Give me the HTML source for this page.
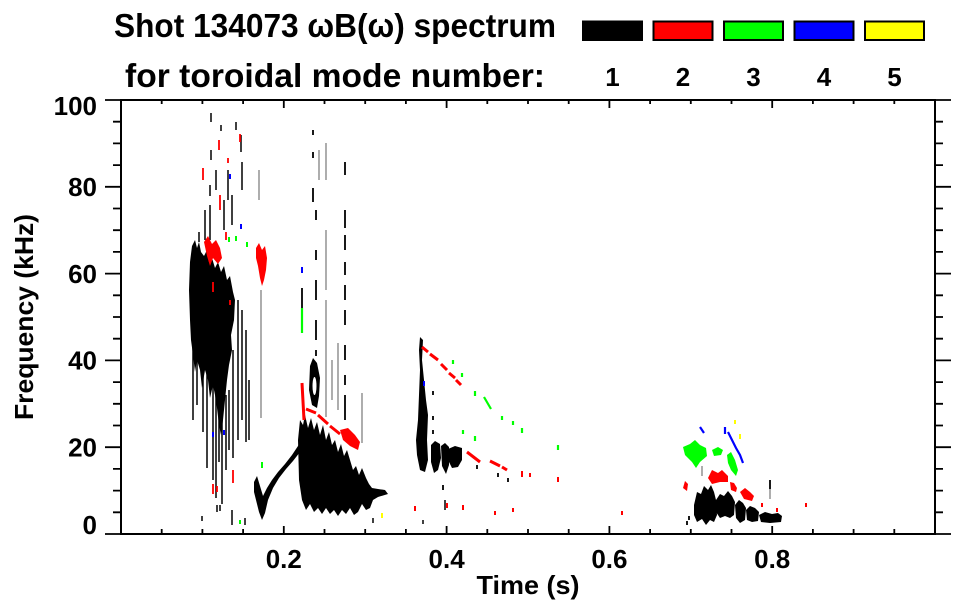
<!DOCTYPE html>
<html><head><meta charset="utf-8"><style>
html,body{margin:0;padding:0;background:#fff;}
svg{display:block;}
text{font-family:"Liberation Sans",Arial,sans-serif;font-weight:bold;fill:#000;}
</style></head><body>
<svg width="963" height="615" viewBox="0 0 963 615" xmlns="http://www.w3.org/2000/svg">
<rect width="963" height="615" fill="#fff"/>

<!-- Title -->
<text x="114" y="37" font-size="33" textLength="442" lengthAdjust="spacingAndGlyphs">Shot 134073 ωB(ω) spectrum</text>
<text x="125" y="87" font-size="33" textLength="420" lengthAdjust="spacingAndGlyphs">for toroidal mode number:</text>

<!-- Legend boxes -->
<g stroke="#000" stroke-width="2">
<rect x="583" y="21.5" width="59" height="18.5" fill="#000"/>
<rect x="653.5" y="21.5" width="59" height="18.5" fill="#ff0000"/>
<rect x="724" y="21.5" width="59" height="18.5" fill="#00ff00"/>
<rect x="794.5" y="21.5" width="59" height="18.5" fill="#0000ff"/>
<rect x="865" y="21.5" width="59" height="18.5" fill="#ffff00"/>
</g>
<g font-size="26" text-anchor="middle">
<text x="612.5" y="86">1</text>
<text x="683" y="86">2</text>
<text x="753.5" y="86">3</text>
<text x="824" y="86">4</text>
<text x="894.5" y="86">5</text>
</g>

<!-- ===== DATA ===== -->
<!-- Region 1 (t~0.08-0.17) -->
<g fill="#000">
<polygon points="190,262 192,246 195,240 197,248 199,242 201,252 204,256 207,250 209,262 212,258 215,268 218,262 221,272 224,266 227,280 230,276 233,292 235,300 234,320 231,335 232,350 229,365 227,380 225,400 223,420 221,435 219,425 217,408 215,395 213,385 210,398 208,380 205,370 202,388 200,370 197,360 195,372 193,355 191,340 190,320 189,290"/>
</g>
<g stroke="#000" stroke-width="1.5" fill="none">
<path d="M193 340V420 M197 350V405 M203 360V432 M207 370V468 M213 380V480 M216 390V498 M219 400V462 M222 420V504 M226 395V470 M229 390V450 M233 350V458 M238 300V440 M242 310V420 M246 330V442 M249 380V440"/>
<path d="M211 113V122 M211 150V160 M210 185V196 M210 205V240 M221 125V131 M224 200V230 M236 122V130 M241 135V152 M242 162V190 M228 170V200 M205 210V240 M232 195V225 M199 232V242 M216 170V190"/>
<path d="M217 505V512 M220 505V511 M202 516V521 M232 510V525 M245 518V525 M373 518V523 M445 500V510 M423 520V524"/>
</g>
<path d="M261 290V418 M259 170V200" stroke="#999" stroke-width="1.6"/>
<g fill="#ff0000">
<polygon points="256,248 259,243 262,250 265,246 267,258 266,270 264,280 262,286 260,278 258,266 256,258"/>
<polygon points="204,242 208,236 212,244 216,240 220,248 222,258 218,264 213,258 210,266 207,256"/>
</g>
<g stroke="#ff0000" stroke-width="1.8">
<path d="M219 140V150 M240 134V142 M203 168V180 M228 158V163 M220 195V210 M226 232V240 M213 282V292 M230 300V305 M233 470V483 M213 484V494 M217 486V492"/>
</g>
<g stroke="#00ff00" stroke-width="2">
<path d="M229 237V242 M236 236V241 M247 242V247 M262 462V468 M240 520V524"/>
</g>
<g stroke="#0000ff" stroke-width="2">
<path d="M230 174V179 M241 224V229 M213 432V437 M224 430V435"/>
</g>

<!-- Region 2 (t~0.17-0.33) -->
<g fill="#000">
<polygon points="254,482 257,476 260,486 263,496 267,488 272,480 278,472 285,464 292,455 298,446 304,436 306,432 306,444 300,452 293,461 286,469 279,478 273,488 268,500 265,513 262,520 259,512 256,500 254,492"/>
<polygon points="298,440 300,420 303,425 305,415 308,428 311,418 314,430 317,422 320,435 323,425 326,440 329,432 332,445 335,440 338,452 341,444 344,456 347,450 350,460 353,470 356,466 359,475 362,468 366,478 369,484 372,488 378,489 385,490 388,494 378,497 373,500 370,508 366,510 362,504 358,512 354,515 350,508 346,514 342,510 338,516 334,510 330,514 326,508 322,514 318,508 314,512 310,504 306,510 302,500 299,480"/>
<polygon points="310,366 313,358 317,363 320,378 319,396 317,408 312,405 309,390"/>
</g>
<ellipse cx="314.5" cy="386" rx="2" ry="9" fill="#fff"/>
<g stroke="#000" stroke-width="1.8" fill="none">
<path d="M302 288V330 M313 130V135 M313 152V158 M313 188V202 M316 210V220 M316 250V260 M316 280V300 M316 320V340 M316 350V356"/>
<path d="M345 162V175 M345 210V228 M345 235V250 M345 262V275 M345 285V300 M345 310V325 M345 345V360 M345 375V385 M345 395V420"/>
</g>
<g stroke="#999" stroke-width="1.6">
<path d="M326 143V180 M326 230V290 M326 300V417 M338 343V410 M362 393V443 M332 360V400 M319 150V180"/>
</g>
<g stroke="#ff0000" stroke-width="3" fill="none">
<path d="M302 383L304 420 M306 409L316 413 M318 415L328 424 M330 426L340 434"/>
</g>
<polygon fill="#ff0000" points="340,430 348,428 355,435 360,442 358,450 350,446 343,440"/>
<path d="M302 308V333" stroke="#00ff00" stroke-width="2.2"/>
<path d="M302 267V273" stroke="#0000ff" stroke-width="2"/>
<path d="M382 513V518" stroke="#ffff00" stroke-width="2"/>

<!-- Region 3 (t~0.36-0.55) -->
<g fill="#000">
<polygon points="420,337 423,340 422,360 424,380 426,400 428,415 427,440 428,460 425,472 420,470 417,455 416,440 418,420 419,395 420,370 419,350"/>
<polygon points="431,445 435,441 440,444 441,458 438,470 434,473 431,462"/>
<polygon points="441,446 445,443 449,447 449,465 446,474 442,466"/>
<polygon points="448,449 455,446 462,448 462,460 458,467 452,468 449,462"/>
</g>
<g stroke="#000" stroke-width="1.8">
<path d="M433 391V395 M433 416V420 M433 430V434 M443 485V490 M477 465V469 M498 473V477 M508 478V482"/>
</g>
<g stroke="#ff0000" stroke-width="3" fill="none">
<path d="M422 347L428 352 M430 354L438 360 M441 364L447 370 M449 373L455 378 M456 380L461 385"/>
<path d="M467 452L480 462 M490 461L500 466 M502 467L507 470"/>
</g>
<g stroke="#ff0000" stroke-width="2">
<path d="M522 471V477 M530 473V477 M558 477V482 M415 506V511 M447 503V508 M463 505V510 M495 511V515 M513 508V512"/>
</g>
<g stroke="#00ff00" stroke-width="2.2">
<path d="M453 360V364 M462 373V377 M475 391V396 M484 397L491 409 M502 416V420 M513 421V425 M522 428V433 M475 436V441 M463 430V434 M558 445V450"/>
</g>
<path d="M424 381V386" stroke="#0000ff" stroke-width="2"/>

<!-- Region 4 (t~0.7-0.82) -->
<g fill="#000">
<polygon points="694,505 697,492 701,494 704,486 708,490 711,485 714,492 716,500 717,515 714,522 710,520 706,525 702,519 697,522 694,515"/>
<polygon points="716,500 720,494 724,496 728,491 732,496 735,502 734,515 730,518 725,516 720,518 716,512"/>
<polygon points="735,505 739,500 743,503 746,508 745,520 740,523 736,518"/>
<polygon points="746,510 750,506 755,508 759,512 758,521 752,522 747,520"/>
<polygon points="759,515 765,512 772,514 778,513 782,516 781,522 770,523 761,522"/>
</g>
<g stroke="#000" stroke-width="1.8">
<path d="M689 516V520 M687 521V525 M770 480V489"/>
</g>
<g stroke="#999" stroke-width="1.6">
<path d="M770 489V499 M702 466V476"/>
</g>
<g fill="#ff0000">
<polygon points="683,488 685,481 688,484 687,491"/>
<polygon points="708,478 712,470 718,473 722,470 728,476 728,482 720,482 712,484"/>
<polygon points="730,482 734,483 737,488 736,492 731,490"/>
<polygon points="740,492 745,488 750,492 754,496 752,501 744,499"/>
</g>
<g stroke="#ff0000" stroke-width="2">
<path d="M762 503V507 M777 508V512 M806 503V507 M622 511V515"/>
</g>
<g fill="#00ff00">
<polygon points="683,447 690,444 695,440 700,445 706,448 707,456 700,462 696,468 692,462 685,455"/>
<polygon points="712,450 718,447 723,450 721,455 714,456"/>
<polygon points="727,455 731,452 735,460 738,470 736,476 731,470 728,463"/>
</g>
<g stroke="#0000ff" stroke-width="2.2" fill="none">
<path d="M700 427L704 433 M725 427V434 M728 432L732 440L736 448L740 455L743 463"/>
</g>
<g stroke="#ffff00" stroke-width="2">
<path d="M740 434V439 M735 420V424"/>
</g>

<!-- ===== AXES ===== -->
<rect x="121" y="100" width="814" height="434" fill="none" stroke="#000" stroke-width="2"/>
<g stroke="#000" stroke-width="1.8" fill="none">
<path d="M105 534H121 M105 447.2H121 M105 360.4H121 M105 273.6H121 M105 186.8H121 M105 100H121"/>
<path d="M113 512.3H121 M113 490.6H121 M113 468.9H121 M113 425.5H121 M113 403.8H121 M113 382.1H121 M113 338.7H121 M113 317H121 M113 295.3H121 M113 251.9H121 M113 230.2H121 M113 208.5H121 M113 165.1H121 M113 143.4H121 M113 121.7H121"/>
<path d="M935 534H951 M935 447.2H951 M935 360.4H951 M935 273.6H951 M935 186.8H951 M935 100H951"/>
<path d="M935 512.3H943 M935 490.6H943 M935 468.9H943 M935 425.5H943 M935 403.8H943 M935 382.1H943 M935 338.7H943 M935 317H943 M935 295.3H943 M935 251.9H943 M935 230.2H943 M935 208.5H943 M935 165.1H943 M935 143.4H943 M935 121.7H943"/>
<path d="M283.8 534V526 M446.6 534V526 M609.4 534V526 M772.2 534V526"/>
<path d="M161.7 534V529 M202.4 534V529 M243.1 534V529 M324.5 534V529 M365.2 534V529 M405.9 534V529 M487.3 534V529 M528 534V529 M568.7 534V529 M650.1 534V529 M690.8 534V529 M731.5 534V529 M812.9 534V529 M853.6 534V529 M894.3 534V529"/>
<path d="M283.8 100V108 M446.6 100V108 M609.4 100V108 M772.2 100V108"/>
<path d="M161.7 100V104 M202.4 100V104 M243.1 100V104 M324.5 100V104 M365.2 100V104 M405.9 100V104 M487.3 100V104 M528 100V104 M568.7 100V104 M650.1 100V104 M690.8 100V104 M731.5 100V104 M812.9 100V104 M853.6 100V104 M894.3 100V104"/>
</g>

<!-- Y labels -->
<g font-size="26" text-anchor="end">
<text x="97" y="534">0</text>
<text x="97" y="456.5">20</text>
<text x="97" y="369.5">40</text>
<text x="97" y="283">60</text>
<text x="97" y="196">80</text>
<text x="97" y="115">100</text>
</g>
<!-- X labels -->
<g font-size="26" text-anchor="middle">
<text x="283.8" y="568">0.2</text>
<text x="446.6" y="568">0.4</text>
<text x="609.4" y="568">0.6</text>
<text x="772.2" y="568">0.8</text>
</g>
<text x="528" y="594" font-size="26" text-anchor="middle" textLength="103" lengthAdjust="spacingAndGlyphs">Time (s)</text>
<text transform="translate(33,317) rotate(-90)" font-size="26" text-anchor="middle" textLength="206" lengthAdjust="spacingAndGlyphs">Frequency (kHz)</text>
</svg>
</body></html>
